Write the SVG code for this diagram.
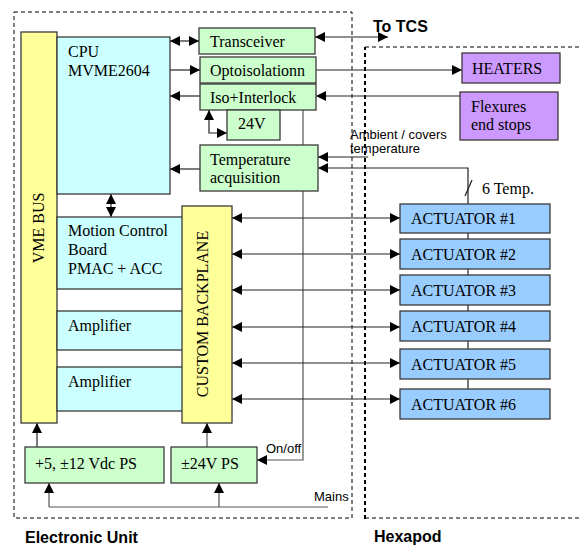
<svg xmlns="http://www.w3.org/2000/svg" width="579" height="545" viewBox="0 0 579 545">
  <defs>
    <marker id="ah" viewBox="0 0 10 10" refX="10" refY="5" markerWidth="10" markerHeight="10" markerUnits="userSpaceOnUse" orient="auto-start-reverse">
      <path d="M0,0 L10,5 L0,10 Z" fill="#000"/>
    </marker>
    <style>
      .box { stroke: #3a3a3a; stroke-width: 1.3; }
      .cpu { fill: #ccffff; }
      .bus { fill: #ffff99; }
      .grn { fill: #ccffcc; }
      .pur { fill: #cc99ff; }
      .act { fill: #99ccff; }
      .t { font-family: "Liberation Serif", "Times New Roman", serif; font-size: 16px; fill: #000; }
      .s { font-family: "Liberation Sans", Arial, sans-serif; font-size: 13px; fill: #000; }
      .b { font-family: "Liberation Sans", Arial, sans-serif; font-size: 16px; font-weight: bold; fill: #000; }
      .ln { stroke: #222; stroke-width: 1.2; fill: none; }
      .gl { stroke: #555; stroke-width: 1.2; fill: none; }
      .a1 { marker-end: url(#ah); }
      .a2 { marker-start: url(#ah); marker-end: url(#ah); }
      .dash { stroke: #000; stroke-width: 1; fill: none; stroke-dasharray: 4 3; }
    </style>
  </defs>

  <!-- enclosures -->
  <g id="enclosures">
    <rect class="dash" x="14" y="12" width="338" height="506"/>
    <path class="dash" d="M365,47 H579 M365,518 H579"/>
    <path class="dash" d="M365,519 V47" style="stroke-width:2"/>
    <text class="b" x="25" y="543">Electronic Unit</text>
    <text class="b" x="374" y="542">Hexapod</text>
  </g>

  <!-- connectors (drawn first so boxes sit on top) -->
  <g id="connectors">
    <!-- power / interlock trunk -->
    <path class="gl" d="M303,110 V460 H257" style="marker-end:url(#ah)"/>
    <!-- actuator temperature trunk -->
    <path class="ln" d="M468,204 V389"/>
    <path class="ln a1" d="M468,204 V168 H318"/>
    <path class="ln" d="M465,196 L472,180"/>
    <path class="ln a1" d="M368,157 H318"/>
    <!-- CPU links -->
    <path class="ln a2" d="M170,41 H199"/>
    <path class="ln a2" d="M315,37 H388"/>
    <path class="ln a1" d="M170,70 H200"/>
    <path class="ln a1" d="M316,70 H462"/>
    <path class="ln a1" d="M460,96 H316"/>
    <path class="ln a1" d="M200,96 H170"/>
    <path class="ln a2" d="M209,110 V133 H227"/>
    <path class="ln a1" d="M200,169 H170"/>
    <path class="ln a2" d="M111,194 V217"/>
    <!-- backplane to actuators -->
    <path class="ln a2" d="M232,218 H400"/>
    <path class="ln a2" d="M232,254 H400"/>
    <path class="ln a2" d="M232,290 H400"/>
    <path class="ln a2" d="M232,327 H400"/>
    <path class="ln a2" d="M232,363 H400"/>
    <path class="ln a2" d="M232,399 H400"/>
    <!-- power supplies -->
    <path class="ln a1" d="M37,447 V423"/>
    <path class="gl a1" d="M207,447 V423"/>
    <path class="gl" d="M328,507 H49"/>
    <path class="gl a1" d="M49,507 V483"/>
    <path class="gl a1" d="M219,507 V483"/>
  </g>

  <!-- connector labels -->
  <g id="labels">
    <text class="b" x="373" y="32">To TCS</text>
    <text class="s" x="350" y="139">Ambient / covers</text>
    <text class="s" x="350" y="153">temperature</text>
    <text class="t" x="482" y="194">6 Temp.</text>
    <text class="s" x="266" y="453">On/off</text>
    <text class="s" x="314" y="501">Mains</text>
  </g>

  <g id="vme-bus">
    <rect class="box bus" x="21" y="32" width="36" height="391"/>
    <text class="t" transform="translate(44,228) rotate(-90)" text-anchor="middle">VME BUS</text>
  </g>
  <g id="cpu">
    <rect class="box cpu" x="57" y="37" width="113" height="157"/>
    <text class="t" x="68" y="57">CPU</text>
    <text class="t" x="68" y="76">MVME2604</text>
  </g>
  <g id="motion-control">
    <rect class="box cpu" x="57" y="217" width="126" height="72"/>
    <text class="t" x="68" y="236">Motion Control</text>
    <text class="t" x="68" y="255">Board</text>
    <text class="t" x="68" y="274">PMAC + ACC</text>
  </g>
  <g id="amplifier-1">
    <rect class="box cpu" x="57" y="311" width="126" height="39"/>
    <text class="t" x="68" y="331">Amplifier</text>
  </g>
  <g id="amplifier-2">
    <rect class="box cpu" x="57" y="367" width="126" height="44"/>
    <text class="t" x="68" y="387">Amplifier</text>
  </g>
  <g id="custom-backplane">
    <rect class="box bus" x="182" y="206" width="50" height="217"/>
    <text class="t" transform="translate(208,314) rotate(-90)" text-anchor="middle">CUSTOM BACKPLANE</text>
  </g>

  <g id="transceiver">
    <rect class="box grn" x="199" y="28" width="116" height="26"/>
    <text class="t" x="210" y="47">Transceiver</text>
  </g>
  <g id="optoisolation">
    <rect class="box grn" x="200" y="57" width="116" height="26"/>
    <text class="t" x="210" y="76">Optoisolationn</text>
  </g>
  <g id="iso-interlock">
    <rect class="box grn" x="200" y="84" width="116" height="26"/>
    <text class="t" x="210" y="103">Iso+Interlock</text>
  </g>
  <g id="supply-24v">
    <rect class="box grn" x="227" y="110" width="53" height="30"/>
    <text class="t" x="238" y="129">24V</text>
  </g>
  <g id="temperature-acquisition">
    <rect class="box grn" x="200" y="145" width="118" height="46"/>
    <text class="t" x="210" y="165">Temperature</text>
    <text class="t" x="210" y="183">acquisition</text>
  </g>

  <g id="heaters">
    <rect class="box pur" x="462" y="53" width="98" height="30"/>
    <text class="t" x="472" y="74">HEATERS</text>
  </g>
  <g id="flexures">
    <rect class="box pur" x="460" y="92" width="98" height="48"/>
    <text class="t" x="471" y="112">Flexures</text>
    <text class="t" x="471" y="130">end stops</text>
  </g>

  <g id="actuator-1">
    <rect class="box act" x="400" y="204" width="150" height="29"/>
    <text class="t" x="411" y="224">ACTUATOR #1</text>
  </g>
  <g id="actuator-2">
    <rect class="box act" x="400" y="239" width="150" height="30"/>
    <text class="t" x="411" y="260">ACTUATOR #2</text>
  </g>
  <g id="actuator-3">
    <rect class="box act" x="400" y="275" width="150" height="30"/>
    <text class="t" x="411" y="296">ACTUATOR #3</text>
  </g>
  <g id="actuator-4">
    <rect class="box act" x="400" y="311" width="150" height="30"/>
    <text class="t" x="411" y="332">ACTUATOR #4</text>
  </g>
  <g id="actuator-5">
    <rect class="box act" x="400" y="349" width="150" height="30"/>
    <text class="t" x="411" y="370">ACTUATOR #5</text>
  </g>
  <g id="actuator-6">
    <rect class="box act" x="400" y="389" width="150" height="30"/>
    <text class="t" x="411" y="410">ACTUATOR #6</text>
  </g>

  <g id="ps-logic">
    <rect class="box grn" x="25" y="447" width="139" height="36"/>
    <text class="t" x="35" y="469">+5, ±12 Vdc PS</text>
  </g>
  <g id="ps-24v">
    <rect class="box grn" x="171" y="447" width="86" height="36"/>
    <text class="t" x="181" y="469">±24V PS</text>
  </g>
</svg>
